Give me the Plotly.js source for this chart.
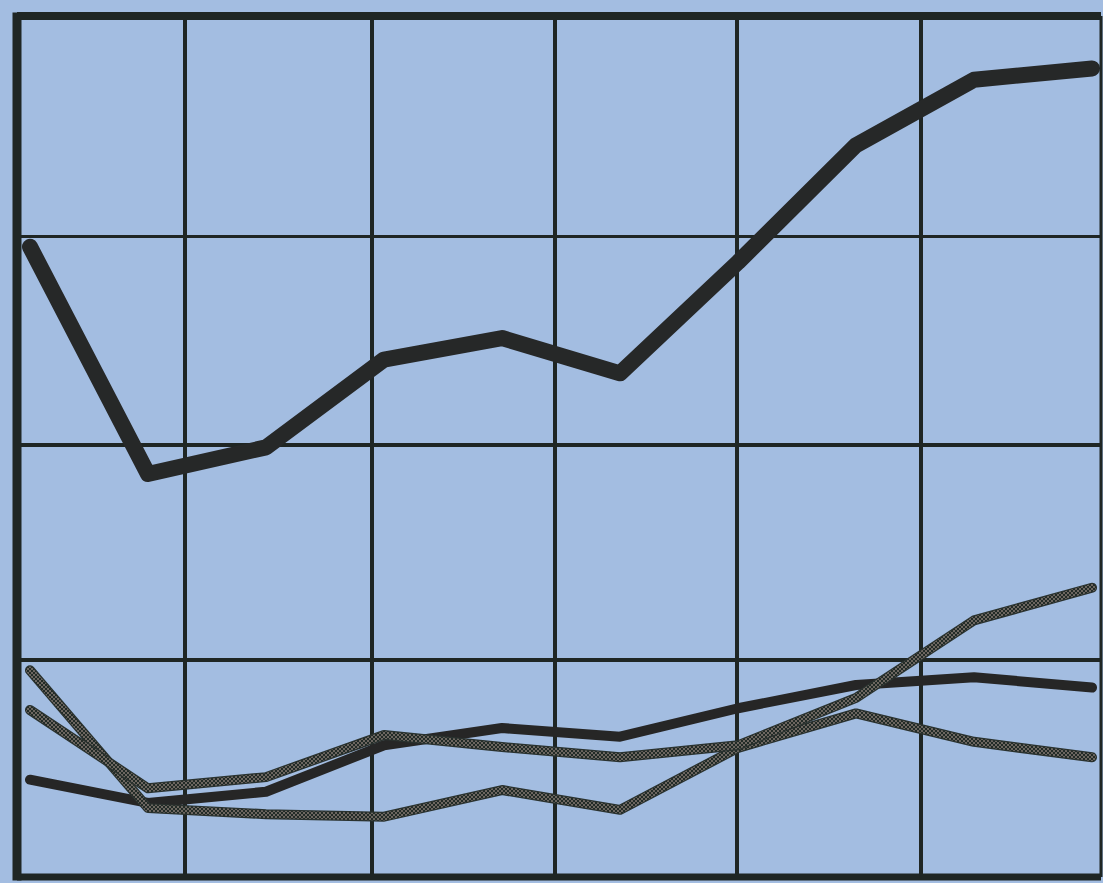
<!DOCTYPE html>
<html>
<head>
<meta charset="utf-8">
<script src="https://cdn.plot.ly/plotly-3.0.1.min.js"></script>
<style>
  html, body { margin: 0; padding: 0; background: #a3bde1; }
  #chart { width: 1103px; height: 883px; }
  .js-line { stroke-linecap: round !important; stroke-linejoin: round !important; }
  .scatterlayer .trace:nth-child(3) .js-line,
  .scatterlayer .trace:nth-child(5) .js-line { stroke: url(#checker) !important; }
</style>
</head>
<body>
<svg width="0" height="0" style="position:absolute">
  <defs>
    <pattern id="checker" width="4" height="4" patternUnits="userSpaceOnUse">
      <rect x="0" y="0" width="4" height="4" fill="#6c6660"/>
      <rect x="0" y="0" width="2" height="2" fill="#222b27"/>
      <rect x="2" y="2" width="2" height="2" fill="#222b27"/>
    </pattern>
  </defs>
</svg>
<div id="chart"></div>
<script>
// Ten evenly spaced observation points (index positions)
const points = [0, 1, 2, 3, 4, 5, 6, 7, 8, 9];

// Series values (0–100 scale)
const seriesTop    = [73.2, 46.8, 49.9, 60.1, 62.6, 58.5, 71.4, 85.0, 92.6, 93.9];
const seriesDark   = [11.3, 8.6, 9.9, 15.3, 17.3, 16.3, 19.6, 22.3, 23.2, 22.0];
const seriesGreyA  = [19.4, 10.3, 11.6, 16.5, 15.1, 13.9, 15.3, 20.8, 29.8, 33.6];
const seriesGreyB  = [24.0, 8.0, 7.3, 7.0, 10.1, 7.8, 15.0, 19.0, 15.7, 13.9];

// Grid positions
const xGrid = [1.314, 2.898, 4.449, 5.992, 7.551];
const yGrid = [25.2, 50.2, 74.4];

const bg = '#a3bde1';
const ink = '#1f2624';

const traces = [
  { x: points, y: seriesDark,  mode: 'lines', line: { color: '#262626', width: 10 }, hoverinfo: 'skip' },
  { x: points, y: seriesGreyB, mode: 'lines', line: { color: '#2a322f', width: 10 }, hoverinfo: 'skip' },
  { x: points, y: seriesGreyB, mode: 'lines', line: { color: '#505250', width: 7.5 }, hoverinfo: 'skip' },
  { x: points, y: seriesGreyA, mode: 'lines', line: { color: '#2a322f', width: 10 }, hoverinfo: 'skip' },
  { x: points, y: seriesGreyA, mode: 'lines', line: { color: '#505250', width: 7.5 }, hoverinfo: 'skip' },
  { x: points, y: seriesTop,   mode: 'lines', line: { color: '#262828', width: 16 }, hoverinfo: 'skip' }
];

const layout = {
  width: 1103,
  height: 883,
  margin: { l: 17, r: 2, t: 16, b: 6, pad: 0 },
  paper_bgcolor: bg,
  plot_bgcolor: bg,
  showlegend: false,
  xaxis: {
    range: [-0.11, 9.076],
    tickmode: 'array', tickvals: xGrid, showticklabels: false,
    showgrid: true, gridcolor: ink, gridwidth: 3.5,
    zeroline: false, showline: false, ticks: '', fixedrange: true
  },
  yaxis: {
    range: [0, 100],
    tickmode: 'array', tickvals: yGrid, showticklabels: false,
    showgrid: true, gridcolor: ink, gridwidth: 3.5,
    zeroline: false, showline: false, ticks: '', fixedrange: true
  },
  shapes: [
    { type: 'line', xref: 'paper', yref: 'paper', x0: 0, x1: 0, y0: -0.004, y1: 1.004, line: { color: ink, width: 9 } },
    { type: 'line', xref: 'paper', yref: 'paper', x0: 0, x1: 1, y0: 1, y1: 1, line: { color: ink, width: 8 } },
    { type: 'line', xref: 'paper', yref: 'paper', x0: 0, x1: 1, y0: 0, y1: 0, line: { color: ink, width: 7 } },
    { type: 'line', xref: 'paper', yref: 'paper', x0: 1, x1: 1, y0: 0, y1: 1, line: { color: ink, width: 3 } }
  ]
};

Plotly.newPlot('chart', traces, layout, { displayModeBar: false, staticPlot: true });
</script>
</body>
</html>
